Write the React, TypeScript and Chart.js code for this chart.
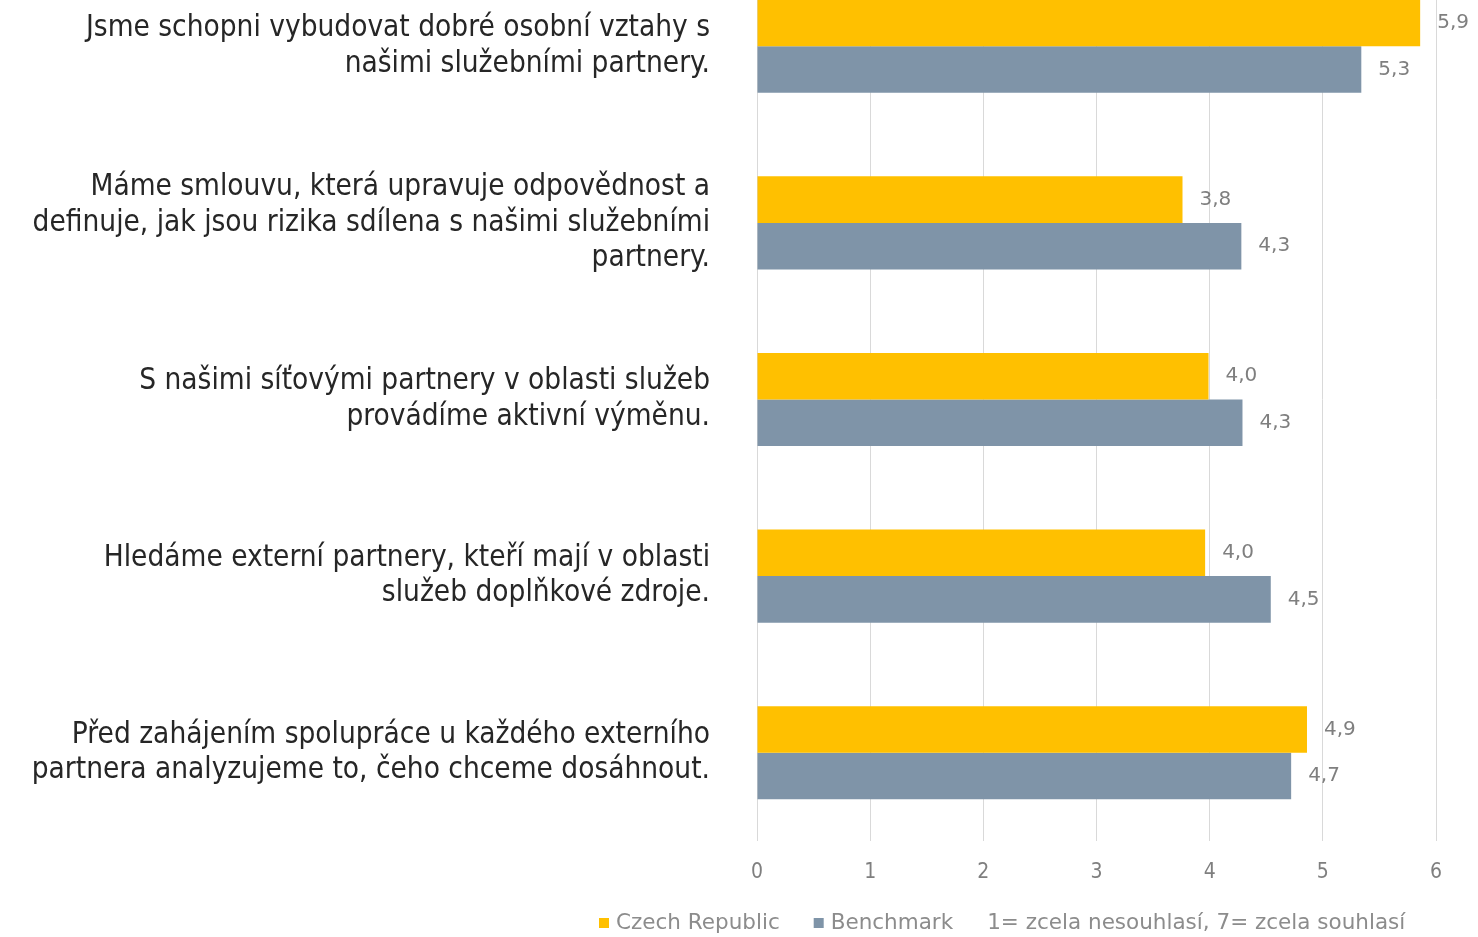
import React, { useEffect, useRef } from "react";
import { Chart, registerables } from "chart.js";

Chart.register(...registerables);

const categories: string[][] = [
  ["Jsme schopni vybudovat dobré osobní vztahy s", "našimi služebními partnery."],
  ["Máme smlouvu, která upravuje odpovědnost a", "definuje, jak jsou rizika sdílena s našimi služebními", "partnery."],
  ["S našimi síťovými partnery v oblasti služeb", "provádíme aktivní výměnu."],
  ["Hledáme externí partnery, kteří mají v oblasti", "služeb doplňkové zdroje."],
  ["Před zahájením spolupráce u každého externího", "partnera analyzujeme to, čeho chceme dosáhnout."],
];

const czechRepublic: number[] = [5.86, 3.76, 3.99, 3.96, 4.86];
const benchmark: number[] = [5.34, 4.28, 4.29, 4.54, 4.72];

const seriesNames: string[] = ["Czech Republic", "Benchmark"];
const scaleNote = "1= zcela nesouhlasí, 7= zcela souhlasí";
const xTicks: number[] = [0, 1, 2, 3, 4, 5, 6];

const FONT_C = "'DejaVu Sans Condensed', 'DejaVu Sans', sans-serif";
const FONT = "'DejaVu Sans', sans-serif";
const YELLOW = "#FFC000";
const GRAY = "#7F94A8";

const valueLabels = {
  id: "valueLabels",
  afterDatasetsDraw(chart: any) {
    const ctx = chart.ctx;
    ctx.save();
    ctx.font = `20px ${FONT}`;
    ctx.fillStyle = "#7f7f7f";
    ctx.textAlign = "left";
    ctx.textBaseline = "middle";
    chart.data.datasets.forEach((ds: any, i: number) => {
      const meta = chart.getDatasetMeta(i);
      meta.data.forEach((el: any, j: number) => {
        const v = ds.data[j] as number;
        ctx.fillText(v.toFixed(1).replace(".", ","), el.x + 17, el.y);
      });
    });
    ctx.restore();
  },
};

const customLegend = {
  id: "customLegend",
  afterDraw(chart: any) {
    const ctx = chart.ctx;
    ctx.save();
    ctx.font = `21.5px ${FONT}`;
    ctx.textBaseline = "middle";
    ctx.textAlign = "left";
    const cy = 965;
    let x = 599;
    const items = [
      { text: seriesNames[0], color: YELLOW },
      { text: seriesNames[1], color: GRAY },
      { text: scaleNote, color: null as string | null },
    ];
    items.forEach((it) => {
      if (it.color) {
        ctx.fillStyle = it.color;
        ctx.fillRect(x, cy - 5, 10, 10);
        x += 17;
      }
      ctx.fillStyle = "#8c8c8c";
      ctx.fillText(it.text, x, cy);
      x += ctx.measureText(it.text).width + 34;
    });
    ctx.restore();
  },
};

export default function App() {
  const ref = useRef<HTMLCanvasElement | null>(null);

  useEffect(() => {
    if (!ref.current) return;
    const chart = new Chart(ref.current, {
      type: "bar",
      data: {
        labels: categories,
        datasets: [
          {
            label: seriesNames[0],
            data: czechRepublic,
            backgroundColor: YELLOW,
            categoryPercentage: 0.527,
            barPercentage: 1,
          },
          {
            label: seriesNames[1],
            data: benchmark,
            backgroundColor: GRAY,
            categoryPercentage: 0.527,
            barPercentage: 1,
          },
        ],
      },
      options: {
        indexAxis: "y",
        animation: false,
        responsive: true,
        maintainAspectRatio: false,
        layout: { padding: { left: 0, right: 42, top: 0, bottom: 0 } },
        plugins: {
          legend: { display: false },
          tooltip: { enabled: false },
        },
        scales: {
          x: {
            min: 0,
            max: 6,
            afterBuildTicks(scale: any) {
              scale.ticks = xTicks.map((v) => ({ value: v }));
            },
            afterFit(scale: any) {
              scale.height = 96;
              scale.paddingLeft = 0;
              scale.paddingRight = 0;
            },
            grid: { color: "#d9d9d9", lineWidth: 1, drawTicks: false },
            border: { display: false },
            ticks: {
              padding: 19,
              color: "#7f7f7f",
              font: { family: FONT_C, size: 21 },
            },
          },
          y: {
            afterFit(scale: any) {
              scale.width = 757;
              scale.paddingTop = 0;
              scale.paddingBottom = 0;
            },
            grid: { display: false, drawTicks: false },
            border: { display: false },
            ticks: {
              padding: 47,
              color: "#262626",
              font: { family: FONT_C, size: 29.5, lineHeight: 1.2 },
            },
          },
        },
      },
      plugins: [valueLabels, customLegend],
    });
    return () => chart.destroy();
  }, []);

  return (
    <div style={{ position: "fixed", top: -42, left: 0, width: 1478, height: 979, background: "#fff" }}>
      <canvas ref={ref} />
    </div>
  );
}
